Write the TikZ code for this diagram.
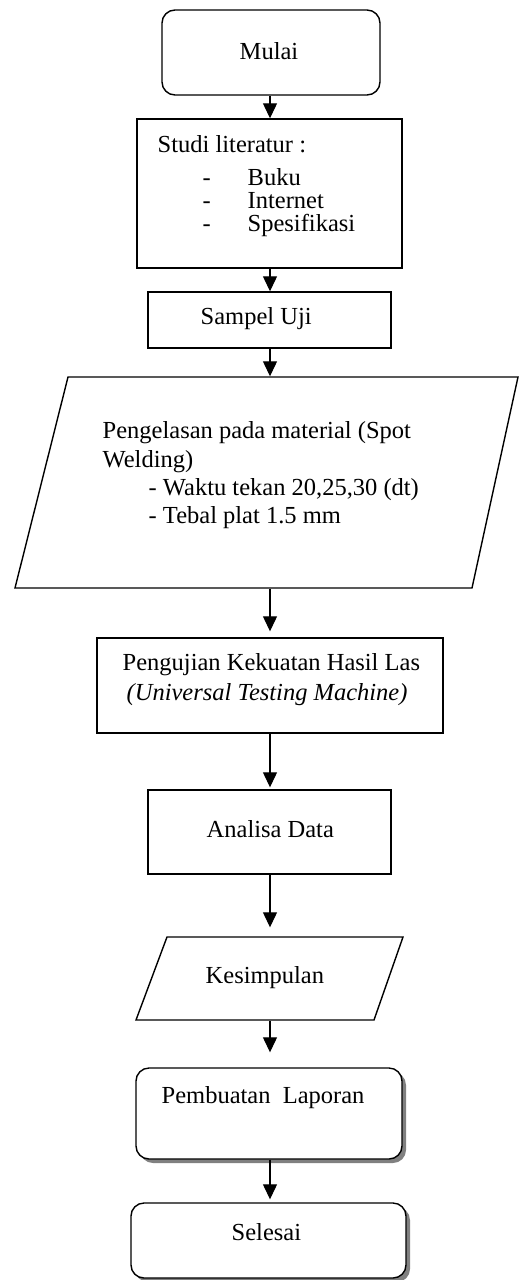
\documentclass[tikz,border=0pt]{standalone}
\usepackage{fontspec}
\setmainfont{Liberation Serif}
\usetikzlibrary{arrows.meta,shadows}
\begin{document}
\begin{tikzpicture}[x=1pt,y=-1pt,
  line width=1.4pt,
  font=\fontsize{24.5}{28}\selectfont,
  box/.style={draw=black, fill=white, rectangle, inner sep=0pt},
  rbox/.style={box, rounded corners=13pt},
  sbox/.style={rbox, drop shadow={shadow xshift=4pt, shadow yshift=-4pt, fill=black!50, opacity=1}},
  ghost/.style={rectangle, inner sep=0pt, draw=none},
  txt/.style={anchor=base west, inner sep=0pt},
  arr/.style={-{Triangle[width=14pt,length=15pt]}, line width=1.2pt}
]
\useasboundingbox (0,0) rectangle (520,1280);

% shapes
\node[rbox, minimum width=218pt, minimum height=85pt] (mulai) at (271,52.5) {};
\node[box, minimum width=265pt, minimum height=149pt] (studi) at (269.5,193.5) {};
\node[box, minimum width=243pt, minimum height=56pt] (sampel) at (269.5,320) {};
\node[ghost, minimum width=503pt, minimum height=211pt] (peng) at (266.5,482.5) {};
\draw (68,377) -- (518,377) -- (472,588) -- (15,588) -- cycle;
\node[box, minimum width=346pt, minimum height=95pt] (uji) at (270,685.5) {};
\node[box, minimum width=243pt, minimum height=84pt] (analisa) at (269.5,832) {};
\node[ghost, minimum width=267pt, minimum height=83pt] (kes) at (269.5,978.5) {};
\draw (167,937) -- (403,937) -- (374,1020) -- (136,1020) -- cycle;
\node[sbox, minimum width=266pt, minimum height=91pt] (lap) at (269,1113.5) {};
\node[sbox, minimum width=275pt, minimum height=75pt] (selesai) at (268.5,1240.5) {};

% texts
\node[anchor=base, inner sep=0pt] (tmulai) at (269,59) {Mulai};
\node[txt] (tstudi) at (157,152) {Studi literatur :};
\node[txt] (d1) at (202,185) {-};
\node[txt] (d2) at (202,208) {-};
\node[txt] (d3) at (202,231) {-};
\node[txt] (i1) at (247,185) {Buku};
\node[txt] (i2) at (247,208) {Internet};
\node[txt] (i3) at (247,231) {Spesifikasi};
\node[txt] (tsampel) at (200,324) {Sampel Uji};
\node[txt] (p1) at (102,438) {Pengelasan pada material (Spot};
\node[txt] (p2) at (102,467) {Welding)};
\node[txt] (p3) at (148,495) {- Waktu tekan 20,25,30 (dt)};
\node[txt] (p4) at (148,523) {- Tebal plat 1.5 mm};
\node[txt] (u1) at (122,670) {Pengujian Kekuatan Hasil Las};
\node[txt] (u2) at (126,700) {\itshape (Universal Testing Machine)};
\node[txt] (tanalisa) at (206,837) {Analisa Data};
\node[txt] (tkes) at (205,983) {Kesimpulan};
\node[txt] (tlap) at (161,1103) {Pembuatan\hspace{0.5em}Laporan};
\node[txt] (tsel) at (231,1240) {Selesai};

% connectors
\draw[arr] (mulai.south -| 270,0) -- (studi.north -| 270,0);
\draw[arr] (studi.south -| 270,0) -- (sampel.north -| 270,0);
\draw[arr] (sampel.south -| 270,0) -- (peng.north -| 270,0);
\draw[arr] (peng.south -| 270,0) -- ([yshift=6pt]uji.north -| 270,0);
\draw[arr] (uji.south -| 270,0) -- ([yshift=2pt]analisa.north -| 270,0);
\draw[arr] (analisa.south -| 270,0) -- ([yshift=9pt]kes.north -| 270,0);
\draw[arr] (kes.south -| 270,0) -- ([yshift=15pt]lap.north -| 270,0);
\draw[arr] (lap.south -| 270,0) -- ([yshift=3pt]selesai.north -| 270,0);
\end{tikzpicture}
\end{document}
